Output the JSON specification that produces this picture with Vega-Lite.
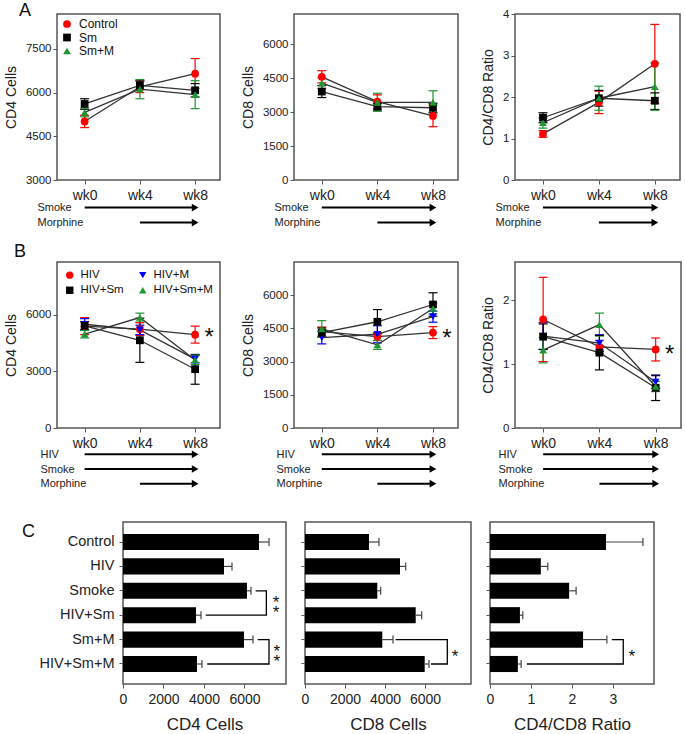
{
"$schema": "https://vega.github.io/schema/vega-lite/v6.json",
"padding": {"left": 3, "top": 0, "right": 0, "bottom": 0},
"background": "white",
"config": {
  "font": "Liberation Sans",
  "view": {"stroke": "#555", "strokeWidth": 1.5},
  "axis": {"domain": false, "grid": false, "tickColor": "#555", "tickSize": 4, "tickWidth": 1, "labelColor": "#222", "titleColor": "#222", "titleFontWeight": "normal", "labelFont": "Liberation Sans", "titleFont": "Liberation Sans"},
  "legend": {"labelFont": "Liberation Sans", "labelColor": "#111"},
  "title": {"font": "Liberation Sans", "fontWeight": "normal", "color": "#111", "fontSize": 18, "anchor": "start", "frame": "group", "baseline": "alphabetic"}
},
"datasets": {
  "A1": [
    {"g":"Control","wk":0,"v":5010,"lo":4800,"hi":5220},{"g":"Control","wk":4,"v":6200,"lo":6000,"hi":6400},{"g":"Control","wk":8,"v":6650,"lo":6150,"hi":7170},
    {"g":"Sm","wk":0,"v":5610,"lo":5430,"hi":5790},{"g":"Sm","wk":4,"v":6250,"lo":6100,"hi":6400},{"g":"Sm","wk":8,"v":6080,"lo":5850,"hi":6310},
    {"g":"Sm+M","wk":0,"v":5320,"lo":5170,"hi":5470},{"g":"Sm+M","wk":4,"v":6120,"lo":5790,"hi":6450},{"g":"Sm+M","wk":8,"v":5930,"lo":5450,"hi":6410}],
  "A2": [
    {"g":"Control","wk":0,"v":4570,"lo":4300,"hi":4840},{"g":"Control","wk":4,"v":3470,"lo":3170,"hi":3770},{"g":"Control","wk":8,"v":2835,"lo":2360,"hi":3310},
    {"g":"Sm","wk":0,"v":3916,"lo":3650,"hi":4180},{"g":"Sm","wk":4,"v":3250,"lo":3100,"hi":3400},{"g":"Sm","wk":8,"v":3200,"lo":3000,"hi":3400},
    {"g":"Sm+M","wk":0,"v":4285,"lo":4050,"hi":4520},{"g":"Sm+M","wk":4,"v":3440,"lo":3040,"hi":3840},{"g":"Sm+M","wk":8,"v":3440,"lo":2930,"hi":3950}],
  "A3": [
    {"g":"Control","wk":0,"v":1.11,"lo":1.03,"hi":1.19},{"g":"Control","wk":4,"v":1.87,"lo":1.60,"hi":2.14},{"g":"Control","wk":8,"v":2.80,"lo":1.85,"hi":3.75},
    {"g":"Sm","wk":0,"v":1.50,"lo":1.38,"hi":1.62},{"g":"Sm","wk":4,"v":1.97,"lo":1.78,"hi":2.16},{"g":"Sm","wk":8,"v":1.91,"lo":1.70,"hi":2.10},
    {"g":"Sm+M","wk":0,"v":1.38,"lo":1.25,"hi":1.50},{"g":"Sm+M","wk":4,"v":1.97,"lo":1.68,"hi":2.26},{"g":"Sm+M","wk":8,"v":2.25,"lo":1.68,"hi":2.82}],
  "B1": [
    {"g":"HIV","wk":0,"v":5400,"lo":4950,"hi":5850},{"g":"HIV","wk":4,"v":5240,"lo":4900,"hi":5580},{"g":"HIV","wk":8,"v":4950,"lo":4500,"hi":5400},
    {"g":"HIV+M","wk":0,"v":5500,"lo":5200,"hi":5800},{"g":"HIV+M","wk":4,"v":5200,"lo":4950,"hi":5450},{"g":"HIV+M","wk":8,"v":3650,"lo":3450,"hi":3850},
    {"g":"HIV+Sm","wk":0,"v":5420,"lo":5200,"hi":5640},{"g":"HIV+Sm","wk":4,"v":4650,"lo":3480,"hi":5820},{"g":"HIV+Sm","wk":8,"v":3117,"lo":2320,"hi":3900},
    {"g":"HIV+Sm+M","wk":0,"v":4975,"lo":4775,"hi":5175},{"g":"HIV+Sm+M","wk":4,"v":5857,"lo":5620,"hi":6090},{"g":"HIV+Sm+M","wk":8,"v":3610,"lo":3360,"hi":3860}],
  "B2": [
    {"g":"HIV","wk":0,"v":4355,"lo":4150,"hi":4560},{"g":"HIV","wk":4,"v":4130,"lo":3950,"hi":4310},{"g":"HIV","wk":8,"v":4310,"lo":4040,"hi":4580},
    {"g":"HIV+M","wk":0,"v":4086,"lo":3800,"hi":4370},{"g":"HIV+M","wk":4,"v":4235,"lo":3850,"hi":4620},{"g":"HIV+M","wk":8,"v":5030,"lo":4780,"hi":5280},
    {"g":"HIV+Sm","wk":0,"v":4310,"lo":4100,"hi":4520},{"g":"HIV+Sm","wk":4,"v":4800,"lo":4250,"hi":5350},{"g":"HIV+Sm","wk":8,"v":5580,"lo":5050,"hi":6110},
    {"g":"HIV+Sm+M","wk":0,"v":4475,"lo":4100,"hi":4850},{"g":"HIV+Sm+M","wk":4,"v":3755,"lo":3550,"hi":3960},{"g":"HIV+Sm+M","wk":8,"v":5400,"lo":5150,"hi":5650}],
  "B3": [
    {"g":"HIV","wk":0,"v":1.70,"lo":1.04,"hi":2.36},{"g":"HIV","wk":4,"v":1.27,"lo":1.17,"hi":1.37},{"g":"HIV","wk":8,"v":1.23,"lo":1.05,"hi":1.41},
    {"g":"HIV+M","wk":0,"v":1.44,"lo":1.23,"hi":1.65},{"g":"HIV+M","wk":4,"v":1.33,"lo":1.20,"hi":1.46},{"g":"HIV+M","wk":8,"v":0.72,"lo":0.62,"hi":0.82},
    {"g":"HIV+Sm","wk":0,"v":1.43,"lo":1.23,"hi":1.63},{"g":"HIV+Sm","wk":4,"v":1.18,"lo":0.91,"hi":1.45},{"g":"HIV+Sm","wk":8,"v":0.63,"lo":0.43,"hi":0.83},
    {"g":"HIV+Sm+M","wk":0,"v":1.22,"lo":1.02,"hi":1.42},{"g":"HIV+Sm+M","wk":4,"v":1.62,"lo":1.44,"hi":1.80},{"g":"HIV+Sm+M","wk":8,"v":0.65,"lo":0.57,"hi":0.73}],
  "annA": [{"label":"Smoke","s":0,"e":8},{"label":"Morphine","s":4,"e":8}],
  "annB": [{"label":"HIV","s":0,"e":8},{"label":"Smoke","s":0,"e":8},{"label":"Morphine","s":4,"e":8}],
  "C1": [{"cat":"Control","v":6716,"hi":7210},{"cat":"HIV","v":4988,"hi":5383},{"cat":"Smoke","v":6123,"hi":6321},{"cat":"HIV+Sm","v":3605,"hi":3852},{"cat":"Sm+M","v":5975,"hi":6420},{"cat":"HIV+Sm+M","v":3654,"hi":3901}],
  "C1br": [{"b":1,"o":1,"x":6550,"cat":"Smoke"},{"b":1,"o":2,"x":7080,"cat":"Smoke"},{"b":1,"o":3,"x":7080,"cat":"HIV+Sm"},{"b":1,"o":4,"x":4085,"cat":"HIV+Sm"},
           {"b":2,"o":1,"x":6650,"cat":"Sm+M"},{"b":2,"o":2,"x":7210,"cat":"Sm+M"},{"b":2,"o":3,"x":7210,"cat":"HIV+Sm+M"},{"b":2,"o":4,"x":4160,"cat":"HIV+Sm+M"}],
  "C1st": [{"x":7560,"cat":"Smoke","t":"*\n*"},{"x":7600,"cat":"Sm+M","t":"*\n*"}],
  "C2": [{"cat":"Control","v":3200,"hi":3700},{"cat":"HIV","v":4750,"hi":5035},{"cat":"Smoke","v":3615,"hi":3785},{"cat":"HIV+Sm","v":5535,"hi":5835},{"cat":"Sm+M","v":3865,"hi":4400},{"cat":"HIV+Sm+M","v":5985,"hi":6200}],
  "C2br": [{"b":1,"o":1,"x":4530,"cat":"Sm+M"},{"b":1,"o":2,"x":7115,"cat":"Sm+M"},{"b":1,"o":3,"x":7115,"cat":"HIV+Sm+M"},{"b":1,"o":4,"x":6300,"cat":"HIV+Sm+M"}],
  "C2st": [{"x":7500,"cat":"Sm+M","t":"*"}],
  "C3": [{"cat":"Control","v":2.83,"hi":3.73},{"cat":"HIV","v":1.24,"hi":1.41},{"cat":"Smoke","v":1.93,"hi":2.10},{"cat":"HIV+Sm","v":0.73,"hi":0.80},{"cat":"Sm+M","v":2.27,"hi":2.85},{"cat":"HIV+Sm+M","v":0.68,"hi":0.76}],
  "C3br": [{"b":1,"o":1,"x":2.97,"cat":"Sm+M"},{"b":1,"o":2,"x":3.25,"cat":"Sm+M"},{"b":1,"o":3,"x":3.25,"cat":"HIV+Sm+M"},{"b":1,"o":4,"x":0.9,"cat":"HIV+Sm+M"}],
  "C3st": [{"x":3.46,"cat":"Sm+M","t":"*"}]
},
"spacing": 30,
"resolve": {"scale": {"color": "independent", "shape": "independent", "fill": "independent", "stroke": "independent"}},
"vconcat": [
 {"columns": 5, "spacing": {"row": 19, "column": 0}, "bounds": "flush", "align": "each",
  "resolve": {"scale": {"color": "independent", "shape": "independent", "fill": "independent", "stroke": "independent"}},
  "concat": [
     {"width": 163, "height": 166,
      "title": {"text": "A", "dx": -38, "offset": -5.5},
      "data": {"name": "A1"},
      "encoding": {"x": {"field": "wk", "type": "quantitative", "scale": {"domain": [-2, 9.8], "nice": false, "zero": false}, "axis": {"values": [0,4,8], "labelExpr": "'wk' + datum.value", "title": null, "labelFontSize": 14, "labelPadding": 4, "labelFlush": false}}},
      "layer": [
        {"mark": {"type": "rule", "strokeWidth": 1.2}, "encoding": {"y": {"field": "lo", "type": "quantitative", "title": "CD4 Cells", "scale": {"domain": [3000, 8700], "nice": false, "zero": false}, "axis": {"values": [3000,4500,6000,7500], "format": "d", "labelFontSize": 11.5, "labelPadding": 2, "titleFontSize": 14, "titlePadding": 7}}, "y2": {"field": "hi"}, "stroke": {"field": "g", "type": "nominal", "scale": {"range": ["#ff0000","#000000","#1e9632"]}, "legend": null}}},
        {"mark": {"type": "tick", "orient": "horizontal", "size": 9, "thickness": 1.2, "opacity": 1}, "encoding": {"y": {"field": "lo", "type": "quantitative", "title": "CD4 Cells"}, "fill": {"field": "g", "type": "nominal", "scale": {"range": ["#ff0000","#000000","#1e9632"]}, "legend": null}}},
        {"mark": {"type": "tick", "orient": "horizontal", "size": 9, "thickness": 1.2, "opacity": 1}, "encoding": {"y": {"field": "hi", "type": "quantitative", "title": "CD4 Cells"}, "fill": {"field": "g", "type": "nominal", "scale": {"range": ["#ff0000","#000000","#1e9632"]}, "legend": null}}},
        {"mark": {"type": "line", "color": "#333", "strokeWidth": 1.3}, "encoding": {"y": {"field": "v", "type": "quantitative", "title": "CD4 Cells"}, "detail": {"field": "g"}}},
        {"mark": {"type": "point", "filled": true, "opacity": 1, "size": 60}, "encoding": {"y": {"field": "v", "type": "quantitative", "title": "CD4 Cells"},
          "color": {"field": "g", "type": "nominal", "scale": {"domain": ["Control","Sm","Sm+M"], "range": ["#ff0000","#000000","#1e9632"]}, "legend": {"orient": "top-left", "offset": 4, "padding": 0, "title": null, "labelFontSize": 12, "symbolSize": 60, "rowPadding": 1.5, "labelOffset": 6}},
          "shape": {"field": "g", "type": "nominal", "scale": {"domain": ["Control","Sm","Sm+M"], "range": ["circle","square","triangle-up"]}, "legend": {"orient": "top-left", "offset": 4, "padding": 0, "title": null, "labelFontSize": 12, "symbolSize": 60, "rowPadding": 1.5, "labelOffset": 6}}}}
      ]},
     {"width": 74, "height": 1, "view": {"stroke": null}, "data": {"values": [{}]}, "mark": {"type": "text", "text": ""}, "encoding": {}},
     {"width": 164, "height": 166,
      "data": {"name": "A2"},
      "encoding": {"x": {"field": "wk", "type": "quantitative", "scale": {"domain": [-2, 9.8], "nice": false, "zero": false}, "axis": {"values": [0,4,8], "labelExpr": "'wk' + datum.value", "title": null, "labelFontSize": 14, "labelPadding": 4, "labelFlush": false}}},
      "layer": [
        {"mark": {"type": "rule", "strokeWidth": 1.2}, "encoding": {"y": {"field": "lo", "type": "quantitative", "title": "CD8 Cells", "scale": {"domain": [0, 7350], "nice": false, "zero": false}, "axis": {"values": [0,1500,3000,4500,6000], "format": "d", "labelFontSize": 11.5, "labelPadding": 2, "titleFontSize": 14, "titlePadding": 7}}, "y2": {"field": "hi"}, "stroke": {"field": "g", "type": "nominal", "scale": {"range": ["#ff0000","#000000","#1e9632"]}, "legend": null}}},
        {"mark": {"type": "tick", "orient": "horizontal", "size": 9, "thickness": 1.2, "opacity": 1}, "encoding": {"y": {"field": "lo", "type": "quantitative", "title": "CD8 Cells"}, "fill": {"field": "g", "type": "nominal", "scale": {"range": ["#ff0000","#000000","#1e9632"]}, "legend": null}}},
        {"mark": {"type": "tick", "orient": "horizontal", "size": 9, "thickness": 1.2, "opacity": 1}, "encoding": {"y": {"field": "hi", "type": "quantitative", "title": "CD8 Cells"}, "fill": {"field": "g", "type": "nominal", "scale": {"range": ["#ff0000","#000000","#1e9632"]}, "legend": null}}},
        {"mark": {"type": "line", "color": "#333", "strokeWidth": 1.3}, "encoding": {"y": {"field": "v", "type": "quantitative", "title": "CD8 Cells"}, "detail": {"field": "g"}}},
        {"mark": {"type": "point", "filled": true, "opacity": 1, "size": 60}, "encoding": {"y": {"field": "v", "type": "quantitative", "title": "CD8 Cells"},
          "color": {"field": "g", "type": "nominal", "scale": {"domain": ["Control","Sm","Sm+M"], "range": ["#ff0000","#000000","#1e9632"]}, "legend": null},
          "shape": {"field": "g", "type": "nominal", "scale": {"domain": ["Control","Sm","Sm+M"], "range": ["circle","square","triangle-up"]}, "legend": null}}}
      ]},
     {"width": 56.5, "height": 1, "view": {"stroke": null}, "data": {"values": [{}]}, "mark": {"type": "text", "text": ""}, "encoding": {}},
     {"width": 165, "height": 166,
      "data": {"name": "A3"},
      "encoding": {"x": {"field": "wk", "type": "quantitative", "scale": {"domain": [-2, 9.8], "nice": false, "zero": false}, "axis": {"values": [0,4,8], "labelExpr": "'wk' + datum.value", "title": null, "labelFontSize": 14, "labelPadding": 4, "labelFlush": false}}},
      "layer": [
        {"mark": {"type": "rule", "strokeWidth": 1.2}, "encoding": {"y": {"field": "lo", "type": "quantitative", "title": "CD4/CD8 Ratio", "scale": {"domain": [0, 4], "nice": false, "zero": false}, "axis": {"values": [0,1,2,3,4], "labelFontSize": 11.5, "labelPadding": 2, "titleFontSize": 14, "titlePadding": 7}}, "y2": {"field": "hi"}, "stroke": {"field": "g", "type": "nominal", "scale": {"range": ["#ff0000","#000000","#1e9632"]}, "legend": null}}},
        {"mark": {"type": "tick", "orient": "horizontal", "size": 9, "thickness": 1.2, "opacity": 1}, "encoding": {"y": {"field": "lo", "type": "quantitative", "title": "CD4/CD8 Ratio"}, "fill": {"field": "g", "type": "nominal", "scale": {"range": ["#ff0000","#000000","#1e9632"]}, "legend": null}}},
        {"mark": {"type": "tick", "orient": "horizontal", "size": 9, "thickness": 1.2, "opacity": 1}, "encoding": {"y": {"field": "hi", "type": "quantitative", "title": "CD4/CD8 Ratio"}, "fill": {"field": "g", "type": "nominal", "scale": {"range": ["#ff0000","#000000","#1e9632"]}, "legend": null}}},
        {"mark": {"type": "line", "color": "#333", "strokeWidth": 1.3}, "encoding": {"y": {"field": "v", "type": "quantitative", "title": "CD4/CD8 Ratio"}, "detail": {"field": "g"}}},
        {"mark": {"type": "point", "filled": true, "opacity": 1, "size": 60}, "encoding": {"y": {"field": "v", "type": "quantitative", "title": "CD4/CD8 Ratio"},
          "color": {"field": "g", "type": "nominal", "scale": {"domain": ["Control","Sm","Sm+M"], "range": ["#ff0000","#000000","#1e9632"]}, "legend": null},
          "shape": {"field": "g", "type": "nominal", "scale": {"domain": ["Control","Sm","Sm+M"], "range": ["circle","square","triangle-up"]}, "legend": null}}}
      ]},

     {"width": 163, "height": 43.5, "view": {"stroke": null}, "data": {"name": "annA"},
      "encoding": {"y": {"field": "label", "type": "nominal", "sort": ["Smoke","Morphine"], "scale": {"type": "point", "padding": 0.95, "align": 0.3}, "axis": {"title": null, "ticks": false, "labelAlign": "left", "labelPadding": 20, "labelFontSize": 11}}},
      "layer": [
        {"mark": {"type": "rule", "strokeWidth": 2, "color": "#000"}, "encoding": {"x": {"field": "s", "type": "quantitative", "scale": {"domain": [-2, 9.8], "nice": false, "zero": false}, "axis": null}, "x2": {"field": "e"}}},
        {"mark": {"type": "point", "shape": "triangle-right", "filled": true, "color": "#000", "size": 60, "opacity": 1}, "encoding": {"x": {"field": "e", "type": "quantitative", "axis": null}}}
      ]},
     {"width": 74, "height": 1, "view": {"stroke": null}, "data": {"values": [{}]}, "mark": {"type": "text", "text": ""}, "encoding": {}},
     {"width": 164, "height": 43.5, "view": {"stroke": null}, "data": {"name": "annA"},
      "encoding": {"y": {"field": "label", "type": "nominal", "sort": ["Smoke","Morphine"], "scale": {"type": "point", "padding": 0.95, "align": 0.3}, "axis": {"title": null, "ticks": false, "labelAlign": "left", "labelPadding": 20, "labelFontSize": 11}}},
      "layer": [
        {"mark": {"type": "rule", "strokeWidth": 2, "color": "#000"}, "encoding": {"x": {"field": "s", "type": "quantitative", "scale": {"domain": [-2, 9.8], "nice": false, "zero": false}, "axis": null}, "x2": {"field": "e"}}},
        {"mark": {"type": "point", "shape": "triangle-right", "filled": true, "color": "#000", "size": 60, "opacity": 1}, "encoding": {"x": {"field": "e", "type": "quantitative", "axis": null}}}
      ]},
     {"width": 56.5, "height": 1, "view": {"stroke": null}, "data": {"values": [{}]}, "mark": {"type": "text", "text": ""}, "encoding": {}},
     {"width": 165, "height": 43.5, "view": {"stroke": null}, "data": {"name": "annA"},
      "encoding": {"y": {"field": "label", "type": "nominal", "sort": ["Smoke","Morphine"], "scale": {"type": "point", "padding": 0.95, "align": 0.3}, "axis": {"title": null, "ticks": false, "labelAlign": "left", "labelPadding": 20, "labelFontSize": 11}}},
      "layer": [
        {"mark": {"type": "rule", "strokeWidth": 2, "color": "#000"}, "encoding": {"x": {"field": "s", "type": "quantitative", "scale": {"domain": [-2, 9.8], "nice": false, "zero": false}, "axis": null}, "x2": {"field": "e"}}},
        {"mark": {"type": "point", "shape": "triangle-right", "filled": true, "color": "#000", "size": 60, "opacity": 1}, "encoding": {"x": {"field": "e", "type": "quantitative", "axis": null}}}
      ]},

     {"width": 163, "height": 166,
      "title": {"text": "B", "dx": -43, "offset": 1.5},
      "data": {"name": "B1"},
      "encoding": {"x": {"field": "wk", "type": "quantitative", "scale": {"domain": [-2, 9.8], "nice": false, "zero": false}, "axis": {"values": [0,4,8], "labelExpr": "'wk' + datum.value", "title": null, "labelFontSize": 14, "labelPadding": 4, "labelFlush": false}}},
      "layer": [
        {"mark": {"type": "rule", "strokeWidth": 1.2}, "encoding": {"y": {"field": "lo", "type": "quantitative", "title": "CD4 Cells", "scale": {"domain": [0, 8800], "nice": false, "zero": false}, "axis": {"values": [0,1500,3000,4500,6000,7500], "labelExpr": "datum.value % 3000 === 0 ? datum.value : ''", "labelFontSize": 11.5, "labelPadding": 2, "titleFontSize": 14, "titlePadding": 7}}, "y2": {"field": "hi"}, "stroke": {"field": "g", "type": "nominal", "scale": {"range": ["#ff0000","#0000ff","#000000","#1e9632"]}, "legend": null}}},
        {"mark": {"type": "tick", "orient": "horizontal", "size": 9, "thickness": 1.2, "opacity": 1}, "encoding": {"y": {"field": "lo", "type": "quantitative", "title": "CD4 Cells"}, "fill": {"field": "g", "type": "nominal", "scale": {"range": ["#ff0000","#0000ff","#000000","#1e9632"]}, "legend": null}}},
        {"mark": {"type": "tick", "orient": "horizontal", "size": 9, "thickness": 1.2, "opacity": 1}, "encoding": {"y": {"field": "hi", "type": "quantitative", "title": "CD4 Cells"}, "fill": {"field": "g", "type": "nominal", "scale": {"range": ["#ff0000","#0000ff","#000000","#1e9632"]}, "legend": null}}},
        {"mark": {"type": "line", "color": "#333", "strokeWidth": 1.3}, "encoding": {"y": {"field": "v", "type": "quantitative", "title": "CD4 Cells"}, "detail": {"field": "g"}}},
        {"mark": {"type": "point", "filled": true, "opacity": 1, "size": 60}, "encoding": {"y": {"field": "v", "type": "quantitative", "title": "CD4 Cells"},
          "color": {"field": "g", "type": "nominal", "scale": {"domain": ["HIV","HIV+M","HIV+Sm","HIV+Sm+M"], "range": ["#ff0000","#0000ff","#000000","#1e9632"]}, "legend": {"orient": "top-left", "offset": 7, "padding": 0, "title": null, "columns": 2, "direction": "horizontal", "columnPadding": 13, "rowPadding": 2.5, "labelFontSize": 11.5, "symbolSize": 55, "labelOffset": 5}},
          "shape": {"field": "g", "type": "nominal", "scale": {"domain": ["HIV","HIV+M","HIV+Sm","HIV+Sm+M"], "range": ["circle","triangle-down","square","triangle-up"]}, "legend": {"orient": "top-left", "offset": 7, "padding": 0, "title": null, "columns": 2, "direction": "horizontal", "columnPadding": 13, "rowPadding": 2.5, "labelFontSize": 11.5, "symbolSize": 55, "labelOffset": 5}}}},
        {"transform": [{"filter": "datum.g === 'HIV' && datum.wk === 8"}], "mark": {"type": "text", "text": "*", "fontSize": 24, "dx": 14, "dy": 3, "baseline": "middle", "color": "#111"}, "encoding": {"y": {"field": "v", "type": "quantitative", "title": "CD4 Cells"}}}
      ]},
     {"width": 74, "height": 1, "view": {"stroke": null}, "data": {"values": [{}]}, "mark": {"type": "text", "text": ""}, "encoding": {}},
     {"width": 164, "height": 166,
      "data": {"name": "B2"},
      "encoding": {"x": {"field": "wk", "type": "quantitative", "scale": {"domain": [-2, 9.8], "nice": false, "zero": false}, "axis": {"values": [0,4,8], "labelExpr": "'wk' + datum.value", "title": null, "labelFontSize": 14, "labelPadding": 4, "labelFlush": false}}},
      "layer": [
        {"mark": {"type": "rule", "strokeWidth": 1.2}, "encoding": {"y": {"field": "lo", "type": "quantitative", "title": "CD8 Cells", "scale": {"domain": [0, 7500], "nice": false, "zero": false}, "axis": {"values": [0,1500,3000,4500,6000], "format": "d", "labelFontSize": 11.5, "labelPadding": 2, "titleFontSize": 14, "titlePadding": 7}}, "y2": {"field": "hi"}, "stroke": {"field": "g", "type": "nominal", "scale": {"range": ["#ff0000","#0000ff","#000000","#1e9632"]}, "legend": null}}},
        {"mark": {"type": "tick", "orient": "horizontal", "size": 9, "thickness": 1.2, "opacity": 1}, "encoding": {"y": {"field": "lo", "type": "quantitative", "title": "CD8 Cells"}, "fill": {"field": "g", "type": "nominal", "scale": {"range": ["#ff0000","#0000ff","#000000","#1e9632"]}, "legend": null}}},
        {"mark": {"type": "tick", "orient": "horizontal", "size": 9, "thickness": 1.2, "opacity": 1}, "encoding": {"y": {"field": "hi", "type": "quantitative", "title": "CD8 Cells"}, "fill": {"field": "g", "type": "nominal", "scale": {"range": ["#ff0000","#0000ff","#000000","#1e9632"]}, "legend": null}}},
        {"mark": {"type": "line", "color": "#333", "strokeWidth": 1.3}, "encoding": {"y": {"field": "v", "type": "quantitative", "title": "CD8 Cells"}, "detail": {"field": "g"}}},
        {"mark": {"type": "point", "filled": true, "opacity": 1, "size": 60}, "encoding": {"y": {"field": "v", "type": "quantitative", "title": "CD8 Cells"},
          "color": {"field": "g", "type": "nominal", "scale": {"domain": ["HIV","HIV+M","HIV+Sm","HIV+Sm+M"], "range": ["#ff0000","#0000ff","#000000","#1e9632"]}, "legend": null},
          "shape": {"field": "g", "type": "nominal", "scale": {"domain": ["HIV","HIV+M","HIV+Sm","HIV+Sm+M"], "range": ["circle","triangle-down","square","triangle-up"]}, "legend": null}}},
        {"transform": [{"filter": "datum.g === 'HIV' && datum.wk === 8"}], "mark": {"type": "text", "text": "*", "fontSize": 24, "dx": 14, "dy": 6, "baseline": "middle", "color": "#111"}, "encoding": {"y": {"field": "v", "type": "quantitative", "title": "CD8 Cells"}}}
      ]},
     {"width": 56.5, "height": 1, "view": {"stroke": null}, "data": {"values": [{}]}, "mark": {"type": "text", "text": ""}, "encoding": {}},
     {"width": 166, "height": 166,
      "data": {"name": "B3"},
      "encoding": {"x": {"field": "wk", "type": "quantitative", "scale": {"domain": [-2, 9.8], "nice": false, "zero": false}, "axis": {"values": [0,4,8], "labelExpr": "'wk' + datum.value", "title": null, "labelFontSize": 14, "labelPadding": 4, "labelFlush": false}}},
      "layer": [
        {"mark": {"type": "rule", "strokeWidth": 1.2}, "encoding": {"y": {"field": "lo", "type": "quantitative", "title": "CD4/CD8 Ratio", "scale": {"domain": [0, 2.6], "nice": false, "zero": false}, "axis": {"values": [0,0.5,1,1.5,2,2.5], "labelExpr": "datum.value % 1 === 0 ? datum.value : ''", "labelFontSize": 11.5, "labelPadding": 2, "titleFontSize": 14, "titlePadding": 7}}, "y2": {"field": "hi"}, "stroke": {"field": "g", "type": "nominal", "scale": {"range": ["#ff0000","#0000ff","#000000","#1e9632"]}, "legend": null}}},
        {"mark": {"type": "tick", "orient": "horizontal", "size": 9, "thickness": 1.2, "opacity": 1}, "encoding": {"y": {"field": "lo", "type": "quantitative", "title": "CD4/CD8 Ratio"}, "fill": {"field": "g", "type": "nominal", "scale": {"range": ["#ff0000","#0000ff","#000000","#1e9632"]}, "legend": null}}},
        {"mark": {"type": "tick", "orient": "horizontal", "size": 9, "thickness": 1.2, "opacity": 1}, "encoding": {"y": {"field": "hi", "type": "quantitative", "title": "CD4/CD8 Ratio"}, "fill": {"field": "g", "type": "nominal", "scale": {"range": ["#ff0000","#0000ff","#000000","#1e9632"]}, "legend": null}}},
        {"mark": {"type": "line", "color": "#333", "strokeWidth": 1.3}, "encoding": {"y": {"field": "v", "type": "quantitative", "title": "CD4/CD8 Ratio"}, "detail": {"field": "g"}}},
        {"mark": {"type": "point", "filled": true, "opacity": 1, "size": 60}, "encoding": {"y": {"field": "v", "type": "quantitative", "title": "CD4/CD8 Ratio"},
          "color": {"field": "g", "type": "nominal", "scale": {"domain": ["HIV","HIV+M","HIV+Sm","HIV+Sm+M"], "range": ["#ff0000","#0000ff","#000000","#1e9632"]}, "legend": null},
          "shape": {"field": "g", "type": "nominal", "scale": {"domain": ["HIV","HIV+M","HIV+Sm","HIV+Sm+M"], "range": ["circle","triangle-down","square","triangle-up"]}, "legend": null}}},
        {"transform": [{"filter": "datum.g === 'HIV' && datum.wk === 8"}], "mark": {"type": "text", "text": "*", "fontSize": 24, "dx": 14, "dy": 6, "baseline": "middle", "color": "#111"}, "encoding": {"y": {"field": "v", "type": "quantitative", "title": "CD4/CD8 Ratio"}}}
      ]},

     {"width": 163, "height": 44, "view": {"stroke": null}, "data": {"name": "annB"},
      "encoding": {"y": {"field": "label", "type": "nominal", "sort": ["HIV","Smoke","Morphine"], "scale": {"type": "point", "padding": 0.5}, "axis": {"title": null, "ticks": false, "labelAlign": "left", "labelPadding": 17, "labelFontSize": 11}}},
      "layer": [
        {"mark": {"type": "rule", "strokeWidth": 2, "color": "#000"}, "encoding": {"x": {"field": "s", "type": "quantitative", "scale": {"domain": [-2, 9.8], "nice": false, "zero": false}, "axis": null}, "x2": {"field": "e"}}},
        {"mark": {"type": "point", "shape": "triangle-right", "filled": true, "color": "#000", "size": 60, "opacity": 1}, "encoding": {"x": {"field": "e", "type": "quantitative", "axis": null}}}
      ]},
     {"width": 74, "height": 1, "view": {"stroke": null}, "data": {"values": [{}]}, "mark": {"type": "text", "text": ""}, "encoding": {}},
     {"width": 164, "height": 44, "view": {"stroke": null}, "data": {"name": "annB"},
      "encoding": {"y": {"field": "label", "type": "nominal", "sort": ["HIV","Smoke","Morphine"], "scale": {"type": "point", "padding": 0.5}, "axis": {"title": null, "ticks": false, "labelAlign": "left", "labelPadding": 18, "labelFontSize": 11}}},
      "layer": [
        {"mark": {"type": "rule", "strokeWidth": 2, "color": "#000"}, "encoding": {"x": {"field": "s", "type": "quantitative", "scale": {"domain": [-2, 9.8], "nice": false, "zero": false}, "axis": null}, "x2": {"field": "e"}}},
        {"mark": {"type": "point", "shape": "triangle-right", "filled": true, "color": "#000", "size": 60, "opacity": 1}, "encoding": {"x": {"field": "e", "type": "quantitative", "axis": null}}}
      ]},
     {"width": 56.5, "height": 1, "view": {"stroke": null}, "data": {"values": [{}]}, "mark": {"type": "text", "text": ""}, "encoding": {}},
     {"width": 166, "height": 44, "view": {"stroke": null}, "data": {"name": "annB"},
      "encoding": {"y": {"field": "label", "type": "nominal", "sort": ["HIV","Smoke","Morphine"], "scale": {"type": "point", "padding": 0.5}, "axis": {"title": null, "ticks": false, "labelAlign": "left", "labelPadding": 17, "labelFontSize": 11}}},
      "layer": [
        {"mark": {"type": "rule", "strokeWidth": 2, "color": "#000"}, "encoding": {"x": {"field": "s", "type": "quantitative", "scale": {"domain": [-2, 9.8], "nice": false, "zero": false}, "axis": null}, "x2": {"field": "e"}}},
        {"mark": {"type": "point", "shape": "triangle-right", "filled": true, "color": "#000", "size": 60, "opacity": 1}, "encoding": {"x": {"field": "e", "type": "quantitative", "axis": null}}}
      ]}
  ]},

 {"hconcat": [
   {"width": 47, "height": 162, "view": {"stroke": null}, "data": {"values": [{}]}, "mark": {"type": "text", "text": ""}, "encoding": {}},
   {"width": 163, "height": 162,
    "title": {"text": "C", "dx": -101, "offset": -19},
    "encoding": {"y": {"field": "cat", "type": "nominal", "sort": ["Control","HIV","Smoke","HIV+Sm","Sm+M","HIV+Sm+M"], "scale": {"paddingInner": 0.34, "paddingOuter": 0.49}, "axis": {"title": null, "labelFontSize": 14.5, "labelPadding": 5, "tickSize": 4}}},
    "layer": [
      {"data": {"name": "C1"}, "mark": {"type": "bar", "color": "#000"}, "encoding": {"x": {"field": "v", "type": "quantitative", "title": "CD4 Cells", "scale": {"domain": [0, 8050], "nice": false}, "axis": {"values": [0,2000,4000,6000], "format": "d", "titleFontSize": 17, "labelFontSize": 14, "labelPadding": 4, "titlePadding": 10.5, "labelFlush": false}}}},
      {"data": {"name": "C1"}, "mark": {"type": "rule", "color": "#444", "strokeWidth": 1.2}, "encoding": {"x": {"field": "v", "type": "quantitative", "title": "CD4 Cells"}, "x2": {"field": "hi"}}},
      {"data": {"name": "C1"}, "mark": {"type": "tick", "color": "#444", "size": 8, "thickness": 1.2, "opacity": 1}, "encoding": {"x": {"field": "hi", "type": "quantitative", "title": "CD4 Cells"}}},
      {"data": {"name": "C1br"}, "mark": {"type": "line", "color": "#000", "strokeWidth": 1.3}, "encoding": {"x": {"field": "x", "type": "quantitative", "title": "CD4 Cells"}, "detail": {"field": "b"}, "order": {"field": "o"}}},
      {"data": {"name": "C1st"}, "mark": {"type": "text", "lineBreak": "\n", "fontSize": 17, "lineHeight": 10, "baseline": "middle", "dy": 12.5, "color": "#111"}, "encoding": {"x": {"field": "x", "type": "quantitative", "title": "CD4 Cells"}, "text": {"field": "t"}}}
    ]},
   {"width": 166, "height": 162,
    "encoding": {"y": {"field": "cat", "type": "nominal", "sort": ["Control","HIV","Smoke","HIV+Sm","Sm+M","HIV+Sm+M"], "scale": {"paddingInner": 0.34, "paddingOuter": 0.49}, "axis": {"title": null, "labels": false, "tickSize": 4}}},
    "layer": [
      {"data": {"name": "C2"}, "mark": {"type": "bar", "color": "#000"}, "encoding": {"x": {"field": "v", "type": "quantitative", "title": "CD8 Cells", "scale": {"domain": [0, 8300], "nice": false}, "axis": {"values": [0,2000,4000,6000], "format": "d", "titleFontSize": 17, "labelFontSize": 14, "labelPadding": 4, "titlePadding": 10.5, "labelFlush": false}}}},
      {"data": {"name": "C2"}, "mark": {"type": "rule", "color": "#444", "strokeWidth": 1.2}, "encoding": {"x": {"field": "v", "type": "quantitative", "title": "CD8 Cells"}, "x2": {"field": "hi"}}},
      {"data": {"name": "C2"}, "mark": {"type": "tick", "color": "#444", "size": 8, "thickness": 1.2, "opacity": 1}, "encoding": {"x": {"field": "hi", "type": "quantitative", "title": "CD8 Cells"}}},
      {"data": {"name": "C2br"}, "mark": {"type": "line", "color": "#000", "strokeWidth": 1.3}, "encoding": {"x": {"field": "x", "type": "quantitative", "title": "CD8 Cells"}, "detail": {"field": "b"}, "order": {"field": "o"}}},
      {"data": {"name": "C2st"}, "mark": {"type": "text", "fontSize": 17, "baseline": "middle", "dy": 17, "color": "#111"}, "encoding": {"x": {"field": "x", "type": "quantitative", "title": "CD8 Cells"}, "text": {"field": "t"}}}
    ]},
   {"width": 164, "height": 162,
    "encoding": {"y": {"field": "cat", "type": "nominal", "sort": ["Control","HIV","Smoke","HIV+Sm","Sm+M","HIV+Sm+M"], "scale": {"paddingInner": 0.34, "paddingOuter": 0.49}, "axis": {"title": null, "labels": false, "tickSize": 4}}},
    "layer": [
      {"data": {"name": "C3"}, "mark": {"type": "bar", "color": "#000"}, "encoding": {"x": {"field": "v", "type": "quantitative", "title": "CD4/CD8 Ratio", "scale": {"domain": [0, 4], "nice": false}, "axis": {"values": [0,1,2,3], "titleFontSize": 17, "labelFontSize": 14, "labelPadding": 4, "titlePadding": 10.5, "labelFlush": false}}}},
      {"data": {"name": "C3"}, "mark": {"type": "rule", "color": "#444", "strokeWidth": 1.2}, "encoding": {"x": {"field": "v", "type": "quantitative", "title": "CD4/CD8 Ratio"}, "x2": {"field": "hi"}}},
      {"data": {"name": "C3"}, "mark": {"type": "tick", "color": "#444", "size": 8, "thickness": 1.2, "opacity": 1}, "encoding": {"x": {"field": "hi", "type": "quantitative", "title": "CD4/CD8 Ratio"}}},
      {"data": {"name": "C3br"}, "mark": {"type": "line", "color": "#000", "strokeWidth": 1.3}, "encoding": {"x": {"field": "x", "type": "quantitative", "title": "CD4/CD8 Ratio"}, "detail": {"field": "b"}, "order": {"field": "o"}}},
      {"data": {"name": "C3st"}, "mark": {"type": "text", "fontSize": 17, "baseline": "middle", "dy": 17, "color": "#111"}, "encoding": {"x": {"field": "x", "type": "quantitative", "title": "CD4/CD8 Ratio"}, "text": {"field": "t"}}}
    ]}
 ], "spacing": 19, "bounds": "flush"}
]
}
